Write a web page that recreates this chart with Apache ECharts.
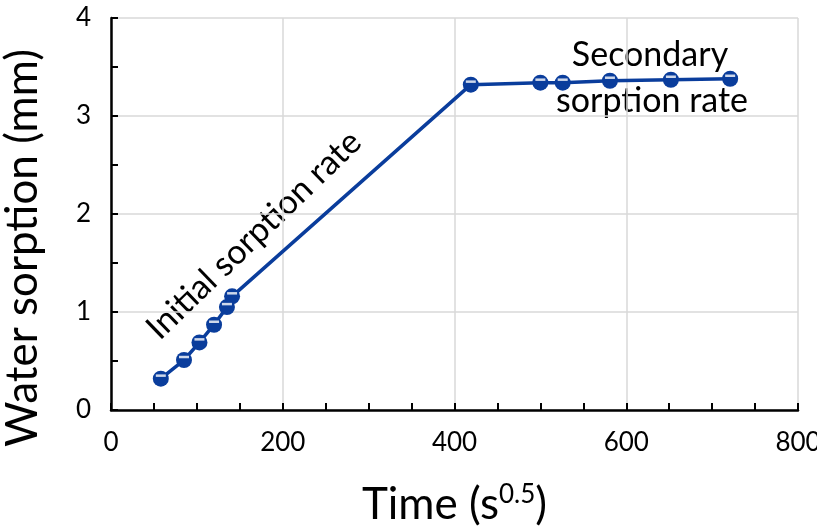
<!DOCTYPE html>
<html lang="en">
  <head>
    <meta charset="UTF-8" />
    <title>Water sorption</title>
    <script src="https://cdn.jsdelivr.net/npm/echarts@6/dist/echarts.min.js"></script>
    <style>
      body { margin: 0; background: #fff; }
    </style>
  </head>
  <body>
    <div id="main" style="width: 817px; height: 526px"></div>
    <script type="text/javascript">
      // values
      const timeValues = [58, 85, 103, 120, 135, 141, 419, 500, 526, 581, 652, 721];
      const sorptionValues = [0.32, 0.51, 0.69, 0.87, 1.05, 1.16, 3.32, 3.34, 3.34, 3.36, 3.37, 3.38];
      const xTicks = [0, 200, 400, 600, 800];
      const yTicks = [0, 1, 2, 3, 4];

      const points = timeValues.map((t, i) => [t, sorptionValues[i]]);
      const blue = "#0a3d9c";
      const font = "Lato";
      // zero-width non-joiner keeps Lato from joining "ti"
      const zw = "\u200C";

      let myChart = echarts.init(document.getElementById("main"));

      let options = {
        animation: false,
        textStyle: { fontFamily: font },
        grid: { left: 111, right: 19, top: 18, bottom: 116, outerBoundsMode: "none", containLabel: false },
        xAxis: {
          type: "value",
          min: xTicks[0],
          max: xTicks[xTicks.length - 1],
          interval: 200,
          axisLine: { lineStyle: { color: "#000", width: 2.5 } },
          axisTick: { show: true, inside: true, length: 7, lineStyle: { color: "#000", width: 2 } },
          minorTick: { show: true, splitNumber: 4, length: 7, lineStyle: { color: "#000", width: 2 } },
          splitLine: { show: true, lineStyle: { color: "#d9d9d9", width: 1.5 } },
          axisLabel: { fontSize: 26, color: "#000", margin: 20, fontFamily: font },
          name: "{a|Time (s}{b|0.5}{a|)}",
          nameLocation: "middle",
          nameGap: 72,
          nameTextStyle: {
            rich: {
              a: { fontSize: 44, color: "#000", fontFamily: font },
              b: { fontSize: 26, color: "#000", fontFamily: font, verticalAlign: "top", padding: [0, 0, 20, 0] }
            }
          }
        },
        yAxis: {
          type: "value",
          min: yTicks[0],
          max: yTicks[yTicks.length - 1],
          interval: 1,
          axisLine: { show: true, lineStyle: { color: "#000", width: 2.5 } },
          axisTick: { show: true, inside: true, length: 7, lineStyle: { color: "#000", width: 2 } },
          minorTick: { show: true, splitNumber: 2, length: 7, lineStyle: { color: "#000", width: 2 } },
          splitLine: { show: true, lineStyle: { color: "#d9d9d9", width: 1.5 } },
          axisLabel: { fontSize: 26, color: "#000", margin: 20, fontFamily: font },
          name: "Water sorp" + zw + "tion (mm)",
          nameLocation: "middle",
          nameGap: 66,
          nameTextStyle: { fontSize: 44, color: "#000", fontFamily: font, padding: [0, 68, 0, 0] }
        },
        series: [
          {
            type: "line",
            data: points,
            symbol: "circle",
            symbolSize: 16,
            showSymbol: true,
            lineStyle: { color: blue, width: 3.5 },
            itemStyle: { color: blue },
            z: 3
          },
          {
            // small white caps drawn on top of each marker
            type: "scatter",
            data: points,
            symbol: "rect",
            symbolSize: [10, 2.5],
            symbolOffset: [0, -3],
            itemStyle: { color: "#fff" },
            silent: true,
            z: 4
          }
        ],
        graphic: [
          {
            type: "text",
            x: 254,
            y: 235,
            rotation: (44 * Math.PI) / 180,
            style: {
              text: "Initial sorp" + zw + "tion rate",
              font: "34px " + font,
              fill: "#000",
              align: "center",
              verticalAlign: "middle"
            }
          },
          {
            type: "text",
            x: 650,
            y: 55,
            style: {
              text: "Secondary",
              font: "34px " + font,
              fill: "#000",
              align: "center",
              verticalAlign: "middle"
            }
          },
          {
            type: "text",
            x: 652,
            y: 101,
            style: {
              text: "sorp" + zw + "tion rate",
              font: "34px " + font,
              fill: "#000",
              align: "center",
              verticalAlign: "middle"
            }
          }
        ]
      };

      myChart.setOption(options);
    </script>
  </body>
</html>
